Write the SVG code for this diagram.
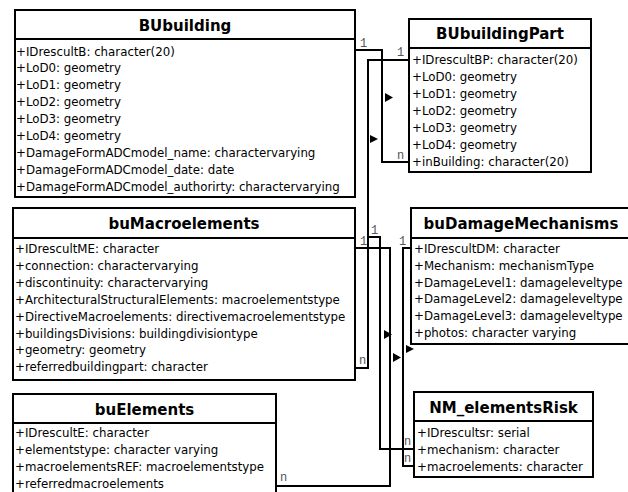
<svg xmlns="http://www.w3.org/2000/svg" width="628" height="492" viewBox="0 0 628 492">
<style>
.box{fill:#fff;stroke:#000;stroke-width:2}
.sep{stroke:#000;stroke-width:2}
.title{font-family:"DejaVu Sans",Verdana,sans-serif;font-weight:bold;font-size:15px;text-anchor:middle;fill:#000}
.row{font-family:"DejaVu Sans",Verdana,sans-serif;font-size:11.8px;fill:#000}
.con{fill:none;stroke:#000;stroke-width:2}
.lbl{font-family:"Liberation Mono","DejaVu Sans Mono",monospace;font-size:12px;fill:#555}
.arr{fill:#000}
</style>
<rect width="628" height="492" fill="#fff"/>
<g id="connectors">
<polyline class="con" points="355,50 382,50 382,162 409,162"/>
<polyline class="con" points="409,60 368,60 368,368 355,368"/>
<polyline class="con" points="368,237 380,237 380,449 414,449"/>
<polyline class="con" points="355,248 390,248 390,486 276,486"/>
<polyline class="con" points="411,248 403,248 403,466 414,466"/>
<polygon class="arr" points="385,93 393,97.5 385,102"/>
<polygon class="arr" points="370,135 378,139 370,143"/>
<polygon class="arr" points="384,330 392,334.5 384,339"/>
<polygon class="arr" points="393,353 401,357.5 393,362"/>
<polygon class="arr" points="406,345 414,349 406,353"/>
<text class="lbl" x="360" y="47">1</text>
<text class="lbl" x="397" y="56">1</text>
<text class="lbl" x="397" y="159">n</text>
<text class="lbl" x="359" y="364">n</text>
<text class="lbl" x="371" y="234">1</text>
<text class="lbl" x="360" y="245">1</text>
<text class="lbl" x="399" y="245">1</text>
<text class="lbl" x="404" y="445">n</text>
<text class="lbl" x="404" y="462">n</text>
<text class="lbl" x="280" y="481">n</text>
</g>
<g id="BUbuilding">
<rect class="box" x="15" y="10" width="340" height="187"/>
<line class="sep" x1="15" y1="39" x2="355" y2="39"/>
<text class="title" x="185" y="30.5">BUbuilding</text>
<text class="row" x="16" y="55.5">+IDrescultB: character(20)</text>
<text class="row" x="16" y="72.4">+LoD0: geometry</text>
<text class="row" x="16" y="89.3">+LoD1: geometry</text>
<text class="row" x="16" y="106.2">+LoD2: geometry</text>
<text class="row" x="16" y="123.1">+LoD3: geometry</text>
<text class="row" x="16" y="140">+LoD4: geometry</text>
<text class="row" x="16" y="156.9">+DamageFormADCmodel_name: charactervarying</text>
<text class="row" x="16" y="173.8">+DamageFormADCmodel_date: date</text>
<text class="row" x="16" y="190.7">+DamageFormADCmodel_authorirty: charactervarying</text>
</g>
<g id="BUbuildingPart">
<rect class="box" x="409" y="19" width="182" height="153"/>
<line class="sep" x1="409" y1="48" x2="591" y2="48"/>
<text class="title" x="500" y="39">BUbuildingPart</text>
<text class="row" x="412" y="64">+IDrescultBP: character(20)</text>
<text class="row" x="412" y="81">+LoD0: geometry</text>
<text class="row" x="412" y="98">+LoD1: geometry</text>
<text class="row" x="412" y="115">+LoD2: geometry</text>
<text class="row" x="412" y="132">+LoD3: geometry</text>
<text class="row" x="412" y="149">+LoD4: geometry</text>
<text class="row" x="412" y="166">+inBuilding: character(20)</text>
</g>
<g id="buMacroelements">
<rect class="box" x="13" y="208" width="342" height="172"/>
<line class="sep" x1="13" y1="238" x2="355" y2="238"/>
<text class="title" x="184" y="228.5">buMacroelements</text>
<text class="row" x="15" y="253">+IDrescultME: character</text>
<text class="row" x="15" y="269.9">+connection: charactervarying</text>
<text class="row" x="15" y="286.8">+discontinuity: charactervarying</text>
<text class="row" x="15" y="303.7">+ArchitecturalStructuralElements: macroelementstype</text>
<text class="row" x="15" y="320.6">+DirectiveMacroelements: directivemacroelementstype</text>
<text class="row" x="15" y="337.5">+buildingsDivisions: buildingdivisiontype</text>
<text class="row" x="15" y="354.4">+geometry: geometry</text>
<text class="row" x="15" y="371.3">+referredbuildingpart: character</text>
</g>
<g id="buDamageMechanisms">
<rect class="box" x="411" y="208" width="222" height="136"/>
<line class="sep" x1="411" y1="238" x2="633" y2="238"/>
<text class="title" x="521" y="228.5">buDamageMechanisms</text>
<text class="row" x="414" y="253">+IDrescultDM: character</text>
<text class="row" x="414" y="269.8">+Mechanism: mechanismType</text>
<text class="row" x="414" y="286.6">+DamageLevel1: damageleveltype</text>
<text class="row" x="414" y="303.4">+DamageLevel2: damageleveltype</text>
<text class="row" x="414" y="320.2">+DamageLevel3: damageleveltype</text>
<text class="row" x="414" y="337">+photos: character varying</text>
</g>
<g id="buElements">
<rect class="box" x="13" y="394" width="263" height="110"/>
<line class="sep" x1="13" y1="423" x2="276" y2="423"/>
<text class="title" x="144.5" y="414.5">buElements</text>
<text class="row" x="15" y="437">+IDrescultE: character</text>
<text class="row" x="15" y="454">+elementstype: character varying</text>
<text class="row" x="15" y="471">+macroelementsREF: macroelementstype</text>
<text class="row" x="15" y="488">+referredmacroelements</text>
</g>
<g id="NM_elementsRisk">
<rect class="box" x="414" y="392" width="179" height="85"/>
<line class="sep" x1="414" y1="421" x2="593" y2="421"/>
<text class="title" x="503.5" y="412.5">NM_elementsRisk</text>
<text class="row" x="417" y="437">+IDrescultsr: serial</text>
<text class="row" x="417" y="454">+mechanism: character</text>
<text class="row" x="417" y="471">+macroelements: character</text>
</g>
</svg>
